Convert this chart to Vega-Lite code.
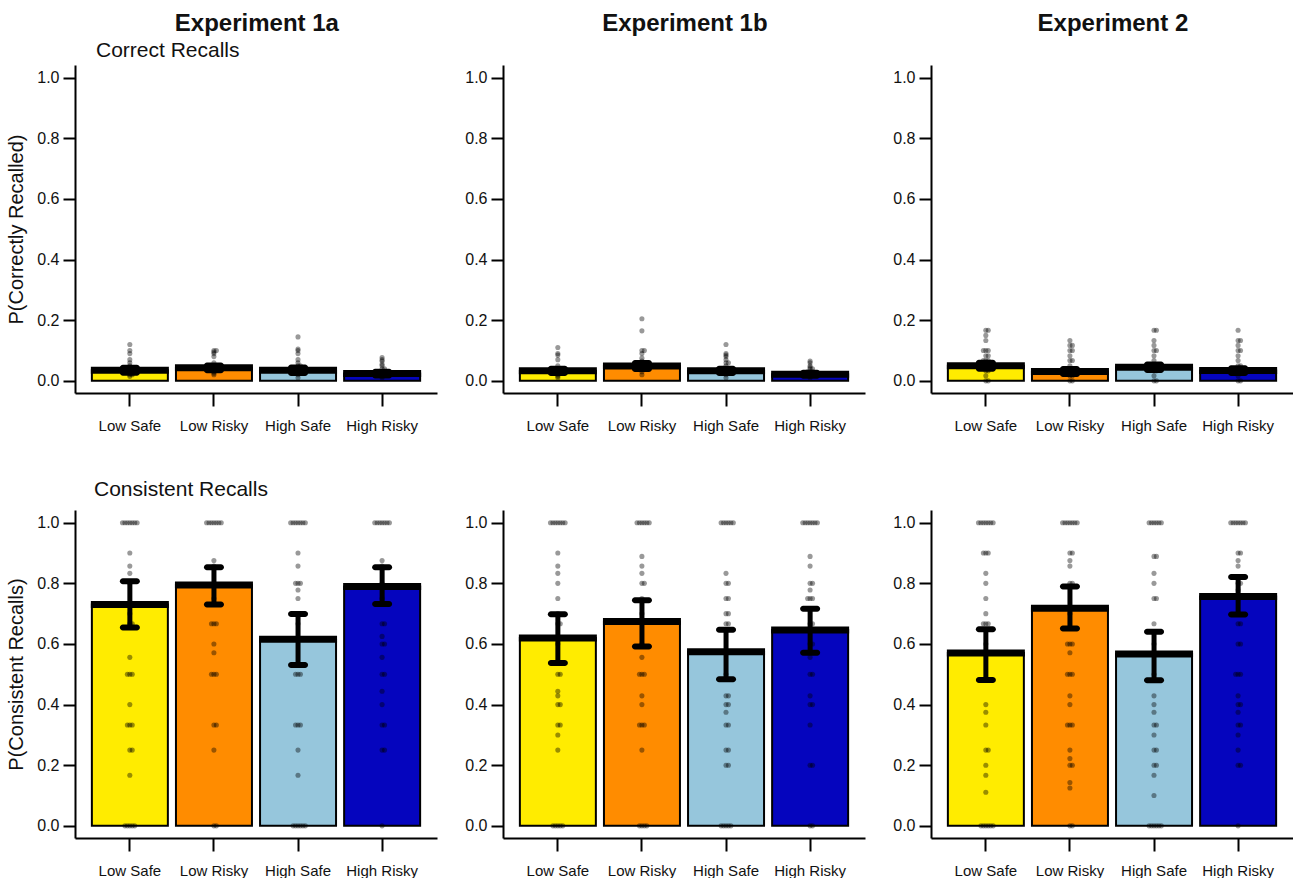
{
"$schema": "https://vega.github.io/schema/vega-lite/v6.json",
"background": "white",
"padding": {"left": 6, "top": 12, "right": 0, "bottom": 0},
"config": {
  "view": {"stroke": null},
  "font": "Liberation Sans",
  "axis": {"domainColor": "#000", "domainWidth": 2, "tickColor": "#000", "tickWidth": 2, "labelColor": "#111", "grid": false, "titleFontWeight": "normal", "titleColor": "#111", "labelFont": "Liberation Sans", "titleFont": "Liberation Sans"},
  "axisX": {"tickSize": 13, "labelPadding": 12, "labelFontSize": 15},
  "axisY": {"tickSize": 12, "labelPadding": 4, "labelFontSize": 16, "titleFontSize": 20, "titlePadding": 10},
  "title": {"font": "Liberation Sans", "color": "#111"}
},
"datasets": {
  "b_1a_cor": [{"c":"Low Safe","mean":0.035,"lo":0.027,"hi":0.043},{"c":"Low Risky","mean":0.043,"lo":0.035,"hi":0.051},{"c":"High Safe","mean":0.035,"lo":0.026,"hi":0.044},{"c":"High Risky","mean":0.024,"lo":0.018,"hi":0.030}],
  "b_1b_cor": [{"c":"Low Safe","mean":0.033,"lo":0.026,"hi":0.040},{"c":"Low Risky","mean":0.049,"lo":0.039,"hi":0.059},{"c":"High Safe","mean":0.033,"lo":0.026,"hi":0.040},{"c":"High Risky","mean":0.022,"lo":0.017,"hi":0.027}],
  "b_2_cor": [{"c":"Low Safe","mean":0.050,"lo":0.040,"hi":0.060},{"c":"Low Risky","mean":0.031,"lo":0.023,"hi":0.039},{"c":"High Safe","mean":0.045,"lo":0.036,"hi":0.054},{"c":"High Risky","mean":0.034,"lo":0.026,"hi":0.042}],
  "b_1a_con": [{"c":"Low Safe","mean":0.73,"lo":0.654,"hi":0.807},{"c":"Low Risky","mean":0.795,"lo":0.73,"hi":0.853},{"c":"High Safe","mean":0.616,"lo":0.531,"hi":0.699},{"c":"High Risky","mean":0.79,"lo":0.732,"hi":0.853}],
  "b_1b_con": [{"c":"Low Safe","mean":0.62,"lo":0.537,"hi":0.698},{"c":"Low Risky","mean":0.674,"lo":0.592,"hi":0.744},{"c":"High Safe","mean":0.574,"lo":0.484,"hi":0.647},{"c":"High Risky","mean":0.646,"lo":0.571,"hi":0.716}],
  "b_2_con": [{"c":"Low Safe","mean":0.570,"lo":0.481,"hi":0.649},{"c":"Low Risky","mean":0.718,"lo":0.651,"hi":0.79},{"c":"High Safe","mean":0.567,"lo":0.48,"hi":0.64},{"c":"High Risky","mean":0.757,"lo":0.697,"hi":0.821}],
  "p_1a_cor": [
    {"c":"Low Safe","v":0.12},{"c":"Low Safe","v":0.10},{"c":"Low Safe","v":0.09},{"c":"Low Safe","v":0.07},{"c":"Low Safe","v":0.06},{"c":"Low Safe","v":0.05},{"c":"Low Safe","v":0.04},{"c":"Low Safe","v":0.04},{"c":"Low Safe","v":0.04},{"c":"Low Safe","v":0.035},{"c":"Low Safe","v":0.035},{"c":"Low Safe","v":0.03},{"c":"Low Safe","v":0.03},{"c":"Low Safe","v":0.03},{"c":"Low Safe","v":0.025},{"c":"Low Safe","v":0.025},{"c":"Low Safe","v":0.02},{"c":"Low Safe","v":0.02},{"c":"Low Safe","v":0.015},
    {"c":"Low Risky","v":0.10},{"c":"Low Risky","v":0.10},{"c":"Low Risky","v":0.095},{"c":"Low Risky","v":0.09},{"c":"Low Risky","v":0.08},{"c":"Low Risky","v":0.06},{"c":"Low Risky","v":0.05},{"c":"Low Risky","v":0.05},{"c":"Low Risky","v":0.045},{"c":"Low Risky","v":0.045},{"c":"Low Risky","v":0.045},{"c":"Low Risky","v":0.04},{"c":"Low Risky","v":0.04},{"c":"Low Risky","v":0.04},{"c":"Low Risky","v":0.035},{"c":"Low Risky","v":0.035},{"c":"Low Risky","v":0.03},{"c":"Low Risky","v":0.025},{"c":"Low Risky","v":0.02},
    {"c":"High Safe","v":0.145},{"c":"High Safe","v":0.105},{"c":"High Safe","v":0.10},{"c":"High Safe","v":0.09},{"c":"High Safe","v":0.07},{"c":"High Safe","v":0.06},{"c":"High Safe","v":0.05},{"c":"High Safe","v":0.05},{"c":"High Safe","v":0.04},{"c":"High Safe","v":0.04},{"c":"High Safe","v":0.04},{"c":"High Safe","v":0.035},{"c":"High Safe","v":0.035},{"c":"High Safe","v":0.03},{"c":"High Safe","v":0.03},{"c":"High Safe","v":0.025},{"c":"High Safe","v":0.02},{"c":"High Safe","v":0.01},
    {"c":"High Risky","v":0.077},{"c":"High Risky","v":0.07},{"c":"High Risky","v":0.065},{"c":"High Risky","v":0.055},{"c":"High Risky","v":0.05},{"c":"High Risky","v":0.04},{"c":"High Risky","v":0.04},{"c":"High Risky","v":0.03},{"c":"High Risky","v":0.03},{"c":"High Risky","v":0.03},{"c":"High Risky","v":0.025},{"c":"High Risky","v":0.025},{"c":"High Risky","v":0.02},{"c":"High Risky","v":0.02},{"c":"High Risky","v":0.02},{"c":"High Risky","v":0.015},{"c":"High Risky","v":0.01}
  ],
  "p_1b_cor": [
    {"c":"Low Safe","v":0.11},{"c":"Low Safe","v":0.09},{"c":"Low Safe","v":0.085},{"c":"Low Safe","v":0.07},{"c":"Low Safe","v":0.05},{"c":"Low Safe","v":0.04},{"c":"Low Safe","v":0.04},{"c":"Low Safe","v":0.04},{"c":"Low Safe","v":0.035},{"c":"Low Safe","v":0.035},{"c":"Low Safe","v":0.03},{"c":"Low Safe","v":0.03},{"c":"Low Safe","v":0.025},{"c":"Low Safe","v":0.025},{"c":"Low Safe","v":0.02},{"c":"Low Safe","v":0.015},{"c":"Low Safe","v":0.01},
    {"c":"Low Risky","v":0.205},{"c":"Low Risky","v":0.165},{"c":"Low Risky","v":0.10},{"c":"Low Risky","v":0.10},{"c":"Low Risky","v":0.09},{"c":"Low Risky","v":0.075},{"c":"Low Risky","v":0.065},{"c":"Low Risky","v":0.06},{"c":"Low Risky","v":0.06},{"c":"Low Risky","v":0.055},{"c":"Low Risky","v":0.055},{"c":"Low Risky","v":0.055},{"c":"Low Risky","v":0.05},{"c":"Low Risky","v":0.05},{"c":"Low Risky","v":0.05},{"c":"Low Risky","v":0.045},{"c":"Low Risky","v":0.045},{"c":"Low Risky","v":0.04},{"c":"Low Risky","v":0.04},{"c":"Low Risky","v":0.03},{"c":"Low Risky","v":0.02},
    {"c":"High Safe","v":0.12},{"c":"High Safe","v":0.09},{"c":"High Safe","v":0.085},{"c":"High Safe","v":0.08},{"c":"High Safe","v":0.07},{"c":"High Safe","v":0.06},{"c":"High Safe","v":0.06},{"c":"High Safe","v":0.05},{"c":"High Safe","v":0.04},{"c":"High Safe","v":0.04},{"c":"High Safe","v":0.035},{"c":"High Safe","v":0.035},{"c":"High Safe","v":0.03},{"c":"High Safe","v":0.03},{"c":"High Safe","v":0.025},{"c":"High Safe","v":0.02},{"c":"High Safe","v":0.01},
    {"c":"High Risky","v":0.065},{"c":"High Risky","v":0.06},{"c":"High Risky","v":0.05},{"c":"High Risky","v":0.045},{"c":"High Risky","v":0.04},{"c":"High Risky","v":0.04},{"c":"High Risky","v":0.03},{"c":"High Risky","v":0.03},{"c":"High Risky","v":0.03},{"c":"High Risky","v":0.025},{"c":"High Risky","v":0.025},{"c":"High Risky","v":0.02},{"c":"High Risky","v":0.02},{"c":"High Risky","v":0.015},{"c":"High Risky","v":0.01}
  ],
  "p_2_cor": [
    {"c":"Low Safe","v":0.167},{"c":"Low Safe","v":0.167},{"c":"Low Safe","v":0.15},{"c":"Low Safe","v":0.133},{"c":"Low Safe","v":0.1},{"c":"Low Safe","v":0.1},{"c":"Low Safe","v":0.1},{"c":"Low Safe","v":0.083},{"c":"Low Safe","v":0.083},{"c":"Low Safe","v":0.067},{"c":"Low Safe","v":0.067},{"c":"Low Safe","v":0.067},{"c":"Low Safe","v":0.05},{"c":"Low Safe","v":0.05},{"c":"Low Safe","v":0.05},{"c":"Low Safe","v":0.05},{"c":"Low Safe","v":0.033},{"c":"Low Safe","v":0.033},{"c":"Low Safe","v":0.017},{"c":"Low Safe","v":0},{"c":"Low Safe","v":0},
    {"c":"Low Risky","v":0.133},{"c":"Low Risky","v":0.117},{"c":"Low Risky","v":0.117},{"c":"Low Risky","v":0.1},{"c":"Low Risky","v":0.1},{"c":"Low Risky","v":0.083},{"c":"Low Risky","v":0.067},{"c":"Low Risky","v":0.067},{"c":"Low Risky","v":0.05},{"c":"Low Risky","v":0.033},{"c":"Low Risky","v":0.033},{"c":"Low Risky","v":0.033},{"c":"Low Risky","v":0.017},{"c":"Low Risky","v":0.017},{"c":"Low Risky","v":0},{"c":"Low Risky","v":0},
    {"c":"High Safe","v":0.167},{"c":"High Safe","v":0.167},{"c":"High Safe","v":0.133},{"c":"High Safe","v":0.117},{"c":"High Safe","v":0.1},{"c":"High Safe","v":0.1},{"c":"High Safe","v":0.083},{"c":"High Safe","v":0.067},{"c":"High Safe","v":0.05},{"c":"High Safe","v":0.05},{"c":"High Safe","v":0.05},{"c":"High Safe","v":0.033},{"c":"High Safe","v":0.033},{"c":"High Safe","v":0.017},{"c":"High Safe","v":0},{"c":"High Safe","v":0},
    {"c":"High Risky","v":0.167},{"c":"High Risky","v":0.133},{"c":"High Risky","v":0.133},{"c":"High Risky","v":0.117},{"c":"High Risky","v":0.1},{"c":"High Risky","v":0.1},{"c":"High Risky","v":0.083},{"c":"High Risky","v":0.067},{"c":"High Risky","v":0.05},{"c":"High Risky","v":0.05},{"c":"High Risky","v":0.033},{"c":"High Risky","v":0.033},{"c":"High Risky","v":0.033},{"c":"High Risky","v":0.017},{"c":"High Risky","v":0},{"c":"High Risky","v":0}
  ],
  "p_1a_con": [
    {"c":"Low Safe","v":1},{"c":"Low Safe","v":1},{"c":"Low Safe","v":1},{"c":"Low Safe","v":1},{"c":"Low Safe","v":1},{"c":"Low Safe","v":1},{"c":"Low Safe","v":1},{"c":"Low Safe","v":0.9},{"c":"Low Safe","v":0.857},{"c":"Low Safe","v":0.833},{"c":"Low Safe","v":0.8},{"c":"Low Safe","v":0.7},{"c":"Low Safe","v":0.667},{"c":"Low Safe","v":0.667},{"c":"Low Safe","v":0.556},{"c":"Low Safe","v":0.5},{"c":"Low Safe","v":0.5},{"c":"Low Safe","v":0.5},{"c":"Low Safe","v":0.4},{"c":"Low Safe","v":0.333},{"c":"Low Safe","v":0.333},{"c":"Low Safe","v":0.333},{"c":"Low Safe","v":0.25},{"c":"Low Safe","v":0.25},{"c":"Low Safe","v":0.167},{"c":"Low Safe","v":0},{"c":"Low Safe","v":0},{"c":"Low Safe","v":0},{"c":"Low Safe","v":0},{"c":"Low Safe","v":0},
    {"c":"Low Risky","v":1},{"c":"Low Risky","v":1},{"c":"Low Risky","v":1},{"c":"Low Risky","v":1},{"c":"Low Risky","v":1},{"c":"Low Risky","v":1},{"c":"Low Risky","v":1},{"c":"Low Risky","v":0.875},{"c":"Low Risky","v":0.857},{"c":"Low Risky","v":0.8},{"c":"Low Risky","v":0.75},{"c":"Low Risky","v":0.667},{"c":"Low Risky","v":0.667},{"c":"Low Risky","v":0.667},{"c":"Low Risky","v":0.6},{"c":"Low Risky","v":0.571},{"c":"Low Risky","v":0.5},{"c":"Low Risky","v":0.5},{"c":"Low Risky","v":0.5},{"c":"Low Risky","v":0.333},{"c":"Low Risky","v":0.333},{"c":"Low Risky","v":0.25},{"c":"Low Risky","v":0},{"c":"Low Risky","v":0},
    {"c":"High Safe","v":1},{"c":"High Safe","v":1},{"c":"High Safe","v":1},{"c":"High Safe","v":1},{"c":"High Safe","v":1},{"c":"High Safe","v":1},{"c":"High Safe","v":1},{"c":"High Safe","v":0.9},{"c":"High Safe","v":0.857},{"c":"High Safe","v":0.8},{"c":"High Safe","v":0.8},{"c":"High Safe","v":0.8},{"c":"High Safe","v":0.778},{"c":"High Safe","v":0.75},{"c":"High Safe","v":0.667},{"c":"High Safe","v":0.5},{"c":"High Safe","v":0.5},{"c":"High Safe","v":0.5},{"c":"High Safe","v":0.333},{"c":"High Safe","v":0.333},{"c":"High Safe","v":0.333},{"c":"High Safe","v":0.25},{"c":"High Safe","v":0.167},{"c":"High Safe","v":0},{"c":"High Safe","v":0},{"c":"High Safe","v":0},{"c":"High Safe","v":0},{"c":"High Safe","v":0},{"c":"High Safe","v":0},
    {"c":"High Risky","v":1},{"c":"High Risky","v":1},{"c":"High Risky","v":1},{"c":"High Risky","v":1},{"c":"High Risky","v":1},{"c":"High Risky","v":1},{"c":"High Risky","v":1},{"c":"High Risky","v":0.875},{"c":"High Risky","v":0.857},{"c":"High Risky","v":0.8},{"c":"High Risky","v":0.75},{"c":"High Risky","v":0.667},{"c":"High Risky","v":0.667},{"c":"High Risky","v":0.625},{"c":"High Risky","v":0.6},{"c":"High Risky","v":0.6},{"c":"High Risky","v":0.556},{"c":"High Risky","v":0.5},{"c":"High Risky","v":0.5},{"c":"High Risky","v":0.444},{"c":"High Risky","v":0.4},{"c":"High Risky","v":0.333},{"c":"High Risky","v":0.333},{"c":"High Risky","v":0.25},{"c":"High Risky","v":0.25},{"c":"High Risky","v":0}
  ],
  "p_1b_con": [
    {"c":"Low Safe","v":1},{"c":"Low Safe","v":1},{"c":"Low Safe","v":1},{"c":"Low Safe","v":1},{"c":"Low Safe","v":1},{"c":"Low Safe","v":1},{"c":"Low Safe","v":1},{"c":"Low Safe","v":0.9},{"c":"Low Safe","v":0.857},{"c":"Low Safe","v":0.833},{"c":"Low Safe","v":0.8},{"c":"Low Safe","v":0.75},{"c":"Low Safe","v":0.7},{"c":"Low Safe","v":0.667},{"c":"Low Safe","v":0.667},{"c":"Low Safe","v":0.6},{"c":"Low Safe","v":0.5},{"c":"Low Safe","v":0.5},{"c":"Low Safe","v":0.444},{"c":"Low Safe","v":0.429},{"c":"Low Safe","v":0.4},{"c":"Low Safe","v":0.4},{"c":"Low Safe","v":0.333},{"c":"Low Safe","v":0.333},{"c":"Low Safe","v":0.3},{"c":"Low Safe","v":0.25},{"c":"Low Safe","v":0},{"c":"Low Safe","v":0},{"c":"Low Safe","v":0},{"c":"Low Safe","v":0},{"c":"Low Safe","v":0},
    {"c":"Low Risky","v":1},{"c":"Low Risky","v":1},{"c":"Low Risky","v":1},{"c":"Low Risky","v":1},{"c":"Low Risky","v":1},{"c":"Low Risky","v":1},{"c":"Low Risky","v":0.889},{"c":"Low Risky","v":0.857},{"c":"Low Risky","v":0.833},{"c":"Low Risky","v":0.8},{"c":"Low Risky","v":0.8},{"c":"Low Risky","v":0.75},{"c":"Low Risky","v":0.7},{"c":"Low Risky","v":0.6},{"c":"Low Risky","v":0.556},{"c":"Low Risky","v":0.5},{"c":"Low Risky","v":0.5},{"c":"Low Risky","v":0.5},{"c":"Low Risky","v":0.429},{"c":"Low Risky","v":0.4},{"c":"Low Risky","v":0.333},{"c":"Low Risky","v":0.333},{"c":"Low Risky","v":0.333},{"c":"Low Risky","v":0.25},{"c":"Low Risky","v":0},{"c":"Low Risky","v":0},{"c":"Low Risky","v":0},{"c":"Low Risky","v":0},
    {"c":"High Safe","v":1},{"c":"High Safe","v":1},{"c":"High Safe","v":1},{"c":"High Safe","v":1},{"c":"High Safe","v":1},{"c":"High Safe","v":1},{"c":"High Safe","v":0.833},{"c":"High Safe","v":0.8},{"c":"High Safe","v":0.8},{"c":"High Safe","v":0.75},{"c":"High Safe","v":0.75},{"c":"High Safe","v":0.7},{"c":"High Safe","v":0.7},{"c":"High Safe","v":0.667},{"c":"High Safe","v":0.667},{"c":"High Safe","v":0.5},{"c":"High Safe","v":0.429},{"c":"High Safe","v":0.429},{"c":"High Safe","v":0.4},{"c":"High Safe","v":0.4},{"c":"High Safe","v":0.375},{"c":"High Safe","v":0.333},{"c":"High Safe","v":0.333},{"c":"High Safe","v":0.25},{"c":"High Safe","v":0.25},{"c":"High Safe","v":0.2},{"c":"High Safe","v":0.2},{"c":"High Safe","v":0},{"c":"High Safe","v":0},{"c":"High Safe","v":0},{"c":"High Safe","v":0},{"c":"High Safe","v":0},
    {"c":"High Risky","v":1},{"c":"High Risky","v":1},{"c":"High Risky","v":1},{"c":"High Risky","v":1},{"c":"High Risky","v":1},{"c":"High Risky","v":1},{"c":"High Risky","v":1},{"c":"High Risky","v":0.889},{"c":"High Risky","v":0.857},{"c":"High Risky","v":0.8},{"c":"High Risky","v":0.8},{"c":"High Risky","v":0.778},{"c":"High Risky","v":0.75},{"c":"High Risky","v":0.75},{"c":"High Risky","v":0.75},{"c":"High Risky","v":0.667},{"c":"High Risky","v":0.667},{"c":"High Risky","v":0.6},{"c":"High Risky","v":0.6},{"c":"High Risky","v":0.556},{"c":"High Risky","v":0.5},{"c":"High Risky","v":0.5},{"c":"High Risky","v":0.429},{"c":"High Risky","v":0.4},{"c":"High Risky","v":0.4},{"c":"High Risky","v":0.333},{"c":"High Risky","v":0.2},{"c":"High Risky","v":0.2},{"c":"High Risky","v":0},{"c":"High Risky","v":0}
  ],
  "p_2_con": [
    {"c":"Low Safe","v":1},{"c":"Low Safe","v":1},{"c":"Low Safe","v":1},{"c":"Low Safe","v":1},{"c":"Low Safe","v":1},{"c":"Low Safe","v":1},{"c":"Low Safe","v":1},{"c":"Low Safe","v":0.9},{"c":"Low Safe","v":0.9},{"c":"Low Safe","v":0.9},{"c":"Low Safe","v":0.833},{"c":"Low Safe","v":0.8},{"c":"Low Safe","v":0.75},{"c":"Low Safe","v":0.7},{"c":"Low Safe","v":0.667},{"c":"Low Safe","v":0.667},{"c":"Low Safe","v":0.667},{"c":"Low Safe","v":0.6},{"c":"Low Safe","v":0.4},{"c":"Low Safe","v":0.375},{"c":"Low Safe","v":0.333},{"c":"Low Safe","v":0.25},{"c":"Low Safe","v":0.25},{"c":"Low Safe","v":0.2},{"c":"Low Safe","v":0.167},{"c":"Low Safe","v":0.111},{"c":"Low Safe","v":0},{"c":"Low Safe","v":0},{"c":"Low Safe","v":0},{"c":"Low Safe","v":0},{"c":"Low Safe","v":0},{"c":"Low Safe","v":0},
    {"c":"Low Risky","v":1},{"c":"Low Risky","v":1},{"c":"Low Risky","v":1},{"c":"Low Risky","v":1},{"c":"Low Risky","v":1},{"c":"Low Risky","v":1},{"c":"Low Risky","v":1},{"c":"Low Risky","v":0.9},{"c":"Low Risky","v":0.9},{"c":"Low Risky","v":0.875},{"c":"Low Risky","v":0.857},{"c":"Low Risky","v":0.8},{"c":"Low Risky","v":0.8},{"c":"Low Risky","v":0.7},{"c":"Low Risky","v":0.6},{"c":"Low Risky","v":0.6},{"c":"Low Risky","v":0.6},{"c":"Low Risky","v":0.571},{"c":"Low Risky","v":0.5},{"c":"Low Risky","v":0.5},{"c":"Low Risky","v":0.5},{"c":"Low Risky","v":0.429},{"c":"Low Risky","v":0.4},{"c":"Low Risky","v":0.333},{"c":"Low Risky","v":0.333},{"c":"Low Risky","v":0.333},{"c":"Low Risky","v":0.25},{"c":"Low Risky","v":0.222},{"c":"Low Risky","v":0.2},{"c":"Low Risky","v":0.2},{"c":"Low Risky","v":0.143},{"c":"Low Risky","v":0.125},{"c":"Low Risky","v":0},{"c":"Low Risky","v":0},
    {"c":"High Safe","v":1},{"c":"High Safe","v":1},{"c":"High Safe","v":1},{"c":"High Safe","v":1},{"c":"High Safe","v":1},{"c":"High Safe","v":1},{"c":"High Safe","v":0.889},{"c":"High Safe","v":0.889},{"c":"High Safe","v":0.833},{"c":"High Safe","v":0.8},{"c":"High Safe","v":0.75},{"c":"High Safe","v":0.75},{"c":"High Safe","v":0.667},{"c":"High Safe","v":0.6},{"c":"High Safe","v":0.5},{"c":"High Safe","v":0.429},{"c":"High Safe","v":0.4},{"c":"High Safe","v":0.375},{"c":"High Safe","v":0.333},{"c":"High Safe","v":0.333},{"c":"High Safe","v":0.3},{"c":"High Safe","v":0.25},{"c":"High Safe","v":0.25},{"c":"High Safe","v":0.2},{"c":"High Safe","v":0.2},{"c":"High Safe","v":0.167},{"c":"High Safe","v":0.1},{"c":"High Safe","v":0},{"c":"High Safe","v":0},{"c":"High Safe","v":0},{"c":"High Safe","v":0},{"c":"High Safe","v":0},{"c":"High Safe","v":0},
    {"c":"High Risky","v":1},{"c":"High Risky","v":1},{"c":"High Risky","v":1},{"c":"High Risky","v":1},{"c":"High Risky","v":1},{"c":"High Risky","v":1},{"c":"High Risky","v":1},{"c":"High Risky","v":0.9},{"c":"High Risky","v":0.9},{"c":"High Risky","v":0.875},{"c":"High Risky","v":0.857},{"c":"High Risky","v":0.8},{"c":"High Risky","v":0.8},{"c":"High Risky","v":0.778},{"c":"High Risky","v":0.75},{"c":"High Risky","v":0.667},{"c":"High Risky","v":0.667},{"c":"High Risky","v":0.6},{"c":"High Risky","v":0.6},{"c":"High Risky","v":0.5},{"c":"High Risky","v":0.5},{"c":"High Risky","v":0.5},{"c":"High Risky","v":0.429},{"c":"High Risky","v":0.4},{"c":"High Risky","v":0.4},{"c":"High Risky","v":0.375},{"c":"High Risky","v":0.333},{"c":"High Risky","v":0.333},{"c":"High Risky","v":0.3},{"c":"High Risky","v":0.25},{"c":"High Risky","v":0.2},{"c":"High Risky","v":0.2},{"c":"High Risky","v":0}
  ]
},
"hconcat": [
  {
    "title": {"text": "Experiment 1a", "fontSize": 24, "fontWeight": "bold", "anchor": "middle", "dx": 35, "offset": 4},
    "spacing": 46,
    "vconcat": [
      {
        "width": 362, "height": 328,
        "title": {"text": "Correct Recalls", "anchor": "start", "frame": "group", "dx": 21, "fontSize": 21, "fontWeight": "normal", "offset": 4},
        "data": {"name": "b_1a_cor"},
        "encoding": {"x": {"field": "c", "type": "nominal", "scale": {"domain": ["Low Safe","Low Risky","High Safe","High Risky"], "paddingInner": 0.095, "paddingOuter": 0.2}, "axis": {"title": null, "labelAngle": 0}}},
        "layer": [
          {"mark": {"type": "bar", "stroke": "#000", "strokeWidth": 2, "width": 76}, "encoding": {"y": {"field": "mean", "type": "quantitative", "title": "P(Correctly Recalled)", "scale": {"domain": [-0.04, 1.042], "nice": false, "zero": false}, "axis": {"values": [0,0.2,0.4,0.6,0.8,1], "format": ".1f"}}, "fill": {"field": "c", "type": "nominal", "scale": {"domain": ["Low Safe","Low Risky","High Safe","High Risky"], "range": ["#FFEC00","#FF8C00","#96C6DC","#0505BE"]}, "legend": null}}},
          {"mark": {"type": "tick", "color": "#000", "size": 78, "thickness": 7, "opacity": 1}, "encoding": {"y": {"field": "mean", "type": "quantitative", "title": "P(Correctly Recalled)"}}},
          {"mark": {"type": "rule", "color": "#000", "strokeWidth": 5}, "encoding": {"y": {"field": "lo", "type": "quantitative", "title": "P(Correctly Recalled)"}, "y2": {"field": "hi"}}},
          {"mark": {"type": "tick", "color": "#000", "size": 20, "thickness": 6, "cornerRadius": 3, "opacity": 1}, "encoding": {"y": {"field": "lo", "type": "quantitative", "title": "P(Correctly Recalled)"}}},
          {"mark": {"type": "tick", "color": "#000", "size": 20, "thickness": 6, "cornerRadius": 3, "opacity": 1}, "encoding": {"y": {"field": "hi", "type": "quantitative", "title": "P(Correctly Recalled)"}}},
          {"data": {"name": "p_1a_cor"}, "transform": [{"window": [{"op": "row_number", "as": "k"}], "groupby": ["c", "v"]}], "mark": {"type": "circle", "color": "#000", "opacity": 0.4, "size": 26}, "encoding": {"xOffset": {"field": "k", "type": "ordinal", "scale": {"type": "point", "domain": [9,7,5,3,1,2,4,6,8], "range": [27, 49]}}, "y": {"field": "v", "type": "quantitative", "title": "P(Correctly Recalled)"}}}
        ]
      },
      {
        "width": 362, "height": 328,
        "title": {"text": "Consistent Recalls", "anchor": "start", "frame": "group", "dx": 19, "fontSize": 21, "fontWeight": "normal", "offset": 10},
        "data": {"name": "b_1a_con"},
        "encoding": {"x": {"field": "c", "type": "nominal", "scale": {"domain": ["Low Safe","Low Risky","High Safe","High Risky"], "paddingInner": 0.095, "paddingOuter": 0.2}, "axis": {"title": null, "labelAngle": 0}}},
        "layer": [
          {"mark": {"type": "bar", "stroke": "#000", "strokeWidth": 2, "width": 76}, "encoding": {"y": {"field": "mean", "type": "quantitative", "title": "P(Consistent Recalls)", "scale": {"domain": [-0.04, 1.042], "nice": false, "zero": false}, "axis": {"values": [0,0.2,0.4,0.6,0.8,1], "format": ".1f"}}, "fill": {"field": "c", "type": "nominal", "scale": {"domain": ["Low Safe","Low Risky","High Safe","High Risky"], "range": ["#FFEC00","#FF8C00","#96C6DC","#0505BE"]}, "legend": null}}},
          {"mark": {"type": "tick", "color": "#000", "size": 78, "thickness": 7, "opacity": 1}, "encoding": {"y": {"field": "mean", "type": "quantitative", "title": "P(Consistent Recalls)"}}},
          {"mark": {"type": "rule", "color": "#000", "strokeWidth": 5}, "encoding": {"y": {"field": "lo", "type": "quantitative", "title": "P(Consistent Recalls)"}, "y2": {"field": "hi"}}},
          {"mark": {"type": "tick", "color": "#000", "size": 20, "thickness": 6, "cornerRadius": 3, "opacity": 1}, "encoding": {"y": {"field": "lo", "type": "quantitative", "title": "P(Consistent Recalls)"}}},
          {"mark": {"type": "tick", "color": "#000", "size": 20, "thickness": 6, "cornerRadius": 3, "opacity": 1}, "encoding": {"y": {"field": "hi", "type": "quantitative", "title": "P(Consistent Recalls)"}}},
          {"data": {"name": "p_1a_con"}, "transform": [{"window": [{"op": "row_number", "as": "k"}], "groupby": ["c", "v"]}], "mark": {"type": "circle", "color": "#000", "opacity": 0.4, "size": 26}, "encoding": {"xOffset": {"field": "k", "type": "ordinal", "scale": {"type": "point", "domain": [9,7,5,3,1,2,4,6,8], "range": [27, 49]}}, "y": {"field": "v", "type": "quantitative", "title": "P(Consistent Recalls)"}}}
        ]
      }
    ]
  },
  {
    "title": {"text": "Experiment 1b", "fontSize": 24, "fontWeight": "bold", "anchor": "middle", "dx": 20, "offset": 4},
    "spacing": 46,
    "vconcat": [
      {
        "width": 362, "height": 328,
        "title": {"text": " ", "anchor": "start", "frame": "group", "fontSize": 21, "fontWeight": "normal", "offset": 4},
        "data": {"name": "b_1b_cor"},
        "encoding": {"x": {"field": "c", "type": "nominal", "scale": {"domain": ["Low Safe","Low Risky","High Safe","High Risky"], "paddingInner": 0.095, "paddingOuter": 0.2}, "axis": {"title": null, "labelAngle": 0}}},
        "layer": [
          {"mark": {"type": "bar", "stroke": "#000", "strokeWidth": 2, "width": 76}, "encoding": {"y": {"field": "mean", "type": "quantitative", "title": null, "scale": {"domain": [-0.04, 1.042], "nice": false, "zero": false}, "axis": {"values": [0,0.2,0.4,0.6,0.8,1], "format": ".1f"}}, "fill": {"field": "c", "type": "nominal", "scale": {"domain": ["Low Safe","Low Risky","High Safe","High Risky"], "range": ["#FFEC00","#FF8C00","#96C6DC","#0505BE"]}, "legend": null}}},
          {"mark": {"type": "tick", "color": "#000", "size": 78, "thickness": 7, "opacity": 1}, "encoding": {"y": {"field": "mean", "type": "quantitative", "title": null}}},
          {"mark": {"type": "rule", "color": "#000", "strokeWidth": 5}, "encoding": {"y": {"field": "lo", "type": "quantitative", "title": null}, "y2": {"field": "hi"}}},
          {"mark": {"type": "tick", "color": "#000", "size": 20, "thickness": 6, "cornerRadius": 3, "opacity": 1}, "encoding": {"y": {"field": "lo", "type": "quantitative", "title": null}}},
          {"mark": {"type": "tick", "color": "#000", "size": 20, "thickness": 6, "cornerRadius": 3, "opacity": 1}, "encoding": {"y": {"field": "hi", "type": "quantitative", "title": null}}},
          {"data": {"name": "p_1b_cor"}, "transform": [{"window": [{"op": "row_number", "as": "k"}], "groupby": ["c", "v"]}], "mark": {"type": "circle", "color": "#000", "opacity": 0.4, "size": 26}, "encoding": {"xOffset": {"field": "k", "type": "ordinal", "scale": {"type": "point", "domain": [9,7,5,3,1,2,4,6,8], "range": [27, 49]}}, "y": {"field": "v", "type": "quantitative", "title": null}}}
        ]
      },
      {
        "width": 362, "height": 328,
        "title": {"text": " ", "anchor": "start", "frame": "group", "fontSize": 21, "fontWeight": "normal", "offset": 10},
        "data": {"name": "b_1b_con"},
        "encoding": {"x": {"field": "c", "type": "nominal", "scale": {"domain": ["Low Safe","Low Risky","High Safe","High Risky"], "paddingInner": 0.095, "paddingOuter": 0.2}, "axis": {"title": null, "labelAngle": 0}}},
        "layer": [
          {"mark": {"type": "bar", "stroke": "#000", "strokeWidth": 2, "width": 76}, "encoding": {"y": {"field": "mean", "type": "quantitative", "title": null, "scale": {"domain": [-0.04, 1.042], "nice": false, "zero": false}, "axis": {"values": [0,0.2,0.4,0.6,0.8,1], "format": ".1f"}}, "fill": {"field": "c", "type": "nominal", "scale": {"domain": ["Low Safe","Low Risky","High Safe","High Risky"], "range": ["#FFEC00","#FF8C00","#96C6DC","#0505BE"]}, "legend": null}}},
          {"mark": {"type": "tick", "color": "#000", "size": 78, "thickness": 7, "opacity": 1}, "encoding": {"y": {"field": "mean", "type": "quantitative", "title": null}}},
          {"mark": {"type": "rule", "color": "#000", "strokeWidth": 5}, "encoding": {"y": {"field": "lo", "type": "quantitative", "title": null}, "y2": {"field": "hi"}}},
          {"mark": {"type": "tick", "color": "#000", "size": 20, "thickness": 6, "cornerRadius": 3, "opacity": 1}, "encoding": {"y": {"field": "lo", "type": "quantitative", "title": null}}},
          {"mark": {"type": "tick", "color": "#000", "size": 20, "thickness": 6, "cornerRadius": 3, "opacity": 1}, "encoding": {"y": {"field": "hi", "type": "quantitative", "title": null}}},
          {"data": {"name": "p_1b_con"}, "transform": [{"window": [{"op": "row_number", "as": "k"}], "groupby": ["c", "v"]}], "mark": {"type": "circle", "color": "#000", "opacity": 0.4, "size": 26}, "encoding": {"xOffset": {"field": "k", "type": "ordinal", "scale": {"type": "point", "domain": [9,7,5,3,1,2,4,6,8], "range": [27, 49]}}, "y": {"field": "v", "type": "quantitative", "title": null}}}
        ]
      }
    ]
  },
  {
    "title": {"text": "Experiment 2", "fontSize": 24, "fontWeight": "bold", "anchor": "middle", "dx": 20, "offset": 4},
    "spacing": 46,
    "vconcat": [
      {
        "width": 362, "height": 328,
        "title": {"text": " ", "anchor": "start", "frame": "group", "fontSize": 21, "fontWeight": "normal", "offset": 4},
        "data": {"name": "b_2_cor"},
        "encoding": {"x": {"field": "c", "type": "nominal", "scale": {"domain": ["Low Safe","Low Risky","High Safe","High Risky"], "paddingInner": 0.095, "paddingOuter": 0.2}, "axis": {"title": null, "labelAngle": 0}}},
        "layer": [
          {"mark": {"type": "bar", "stroke": "#000", "strokeWidth": 2, "width": 76}, "encoding": {"y": {"field": "mean", "type": "quantitative", "title": null, "scale": {"domain": [-0.04, 1.042], "nice": false, "zero": false}, "axis": {"values": [0,0.2,0.4,0.6,0.8,1], "format": ".1f"}}, "fill": {"field": "c", "type": "nominal", "scale": {"domain": ["Low Safe","Low Risky","High Safe","High Risky"], "range": ["#FFEC00","#FF8C00","#96C6DC","#0505BE"]}, "legend": null}}},
          {"mark": {"type": "tick", "color": "#000", "size": 78, "thickness": 7, "opacity": 1}, "encoding": {"y": {"field": "mean", "type": "quantitative", "title": null}}},
          {"mark": {"type": "rule", "color": "#000", "strokeWidth": 5}, "encoding": {"y": {"field": "lo", "type": "quantitative", "title": null}, "y2": {"field": "hi"}}},
          {"mark": {"type": "tick", "color": "#000", "size": 20, "thickness": 6, "cornerRadius": 3, "opacity": 1}, "encoding": {"y": {"field": "lo", "type": "quantitative", "title": null}}},
          {"mark": {"type": "tick", "color": "#000", "size": 20, "thickness": 6, "cornerRadius": 3, "opacity": 1}, "encoding": {"y": {"field": "hi", "type": "quantitative", "title": null}}},
          {"data": {"name": "p_2_cor"}, "transform": [{"window": [{"op": "row_number", "as": "k"}], "groupby": ["c", "v"]}], "mark": {"type": "circle", "color": "#000", "opacity": 0.4, "size": 26}, "encoding": {"xOffset": {"field": "k", "type": "ordinal", "scale": {"type": "point", "domain": [9,7,5,3,1,2,4,6,8], "range": [27, 49]}}, "y": {"field": "v", "type": "quantitative", "title": null}}}
        ]
      },
      {
        "width": 362, "height": 328,
        "title": {"text": " ", "anchor": "start", "frame": "group", "fontSize": 21, "fontWeight": "normal", "offset": 10},
        "data": {"name": "b_2_con"},
        "encoding": {"x": {"field": "c", "type": "nominal", "scale": {"domain": ["Low Safe","Low Risky","High Safe","High Risky"], "paddingInner": 0.095, "paddingOuter": 0.2}, "axis": {"title": null, "labelAngle": 0}}},
        "layer": [
          {"mark": {"type": "bar", "stroke": "#000", "strokeWidth": 2, "width": 76}, "encoding": {"y": {"field": "mean", "type": "quantitative", "title": null, "scale": {"domain": [-0.04, 1.042], "nice": false, "zero": false}, "axis": {"values": [0,0.2,0.4,0.6,0.8,1], "format": ".1f"}}, "fill": {"field": "c", "type": "nominal", "scale": {"domain": ["Low Safe","Low Risky","High Safe","High Risky"], "range": ["#FFEC00","#FF8C00","#96C6DC","#0505BE"]}, "legend": null}}},
          {"mark": {"type": "tick", "color": "#000", "size": 78, "thickness": 7, "opacity": 1}, "encoding": {"y": {"field": "mean", "type": "quantitative", "title": null}}},
          {"mark": {"type": "rule", "color": "#000", "strokeWidth": 5}, "encoding": {"y": {"field": "lo", "type": "quantitative", "title": null}, "y2": {"field": "hi"}}},
          {"mark": {"type": "tick", "color": "#000", "size": 20, "thickness": 6, "cornerRadius": 3, "opacity": 1}, "encoding": {"y": {"field": "lo", "type": "quantitative", "title": null}}},
          {"mark": {"type": "tick", "color": "#000", "size": 20, "thickness": 6, "cornerRadius": 3, "opacity": 1}, "encoding": {"y": {"field": "hi", "type": "quantitative", "title": null}}},
          {"data": {"name": "p_2_con"}, "transform": [{"window": [{"op": "row_number", "as": "k"}], "groupby": ["c", "v"]}], "mark": {"type": "circle", "color": "#000", "opacity": 0.4, "size": 26}, "encoding": {"xOffset": {"field": "k", "type": "ordinal", "scale": {"type": "point", "domain": [9,7,5,3,1,2,4,6,8], "range": [27, 49]}}, "y": {"field": "v", "type": "quantitative", "title": null}}}
        ]
      }
    ]
  }
],
"spacing": 27
}
